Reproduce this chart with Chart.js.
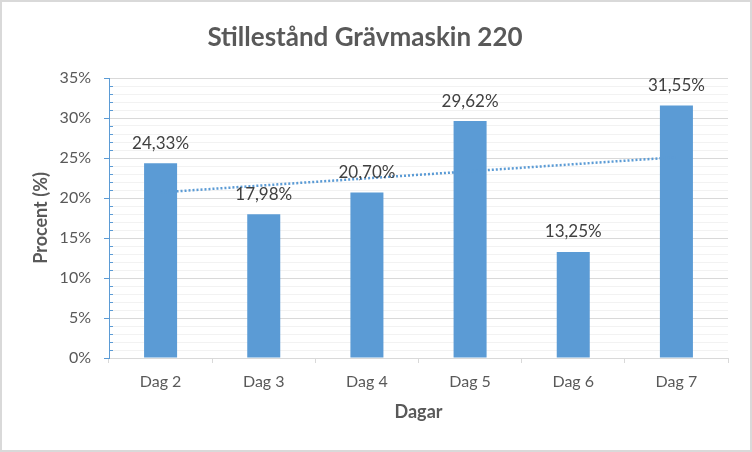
<!DOCTYPE html>
<html lang="sv">
<head>
  <meta charset="UTF-8" />
  <title>Stillestånd Grävmaskin 220</title>
  <script src="https://cdn.jsdelivr.net/npm/chart.js"></script>
  <style>
    html, body { margin: 0; padding: 0; background: #fff; }
    .frame {
      width: 752px;
      height: 452px;
      box-sizing: border-box;
      border: 2px solid #d9d9d9;
      background: #fff;
    }
    .frame canvas { display: block; }
  </style>
</head>
<body>

<div class="frame">
  <canvas id="chart" width="748" height="448"></canvas>
</div>

<script>
  // data
  const days = ['Dag 2', 'Dag 3', 'Dag 4', 'Dag 5', 'Dag 6', 'Dag 7'];
  const downtime = [24.33, 17.98, 20.70, 29.62, 13.25, 31.55];
  // linear trend line, end points
  const trend = [20.7, null, null, null, null, 25.1];

  const blue = '#5b9bd5';
  const grey = '#595959';
  const font = 'Lato, "Open Sans", sans-serif';

  // percentages written the Swedish way
  const fmt = v => v.toFixed(2).replace('.', ',') + '%';

  // value labels above the bars
  const barLabels = {
    id: 'barLabels',
    afterDatasetsDraw(chart) {
      const idx = chart.data.datasets.findIndex(d => !d.type);
      const meta = chart.getDatasetMeta(idx);
      const ctx = chart.ctx;
      ctx.save();
      ctx.font = '17px ' + font;
      ctx.fillStyle = '#404040';
      ctx.textAlign = 'center';
      ctx.textBaseline = 'middle';
      meta.data.forEach((bar, i) => {
        ctx.fillText(fmt(downtime[i]), bar.x, bar.y - 20);
      });
      ctx.restore();
    }
  };

  // small minor tick marks on the inside of the y axis
  const minorTicks = {
    id: 'minorTicks',
    afterDraw(chart) {
      const y = chart.scales.y;
      const ctx = chart.ctx;
      ctx.save();
      ctx.strokeStyle = blue;
      ctx.lineWidth = 1;
      for (let v = 1; v < 35; v++) {
        if (v % 5 === 0) continue;
        const py = Math.round(y.getPixelForValue(v)) + 0.5;
        ctx.beginPath();
        ctx.moveTo(y.right, py);
        ctx.lineTo(y.right + 4, py);
        ctx.stroke();
      }
      ctx.restore();
    }
  };

  new Chart(document.getElementById('chart'), {
    type: 'bar',
    data: {
      labels: days,
      datasets: [{
        type: 'line',
        label: 'Linjär',
        data: trend,
        spanGaps: true,
        borderColor: blue,
        borderWidth: 2.5,
        borderDash: [2, 2],
        pointRadius: 0,
        fill: false,
        order: 0
      }, {
        label: 'Stillestånd',
        data: downtime,
        backgroundColor: blue,
        categoryPercentage: 1,
        barPercentage: 0.32,
        order: 1
      }]
    },
    options: {
      responsive: false,
      animation: false,
      layout: { padding: { left: 0, right: 22, top: 0, bottom: 0 } },
      plugins: {
        legend: { display: false },
        tooltip: { enabled: false },
        title: {
          display: true,
          text: 'Stillestånd Grävmaskin 220',
          color: grey,
          font: { family: font, size: 26, weight: 'bold' },
          padding: { top: 20.4, bottom: 24.4 }
        }
      },
      scales: {
        x: {
          afterFit(scale) { scale.height = 92; },
          grid: {
            offset: true,
            drawOnChartArea: false,
            drawTicks: true,
            tickLength: 5,
            color: '#d9d9d9'
          },
          border: { color: '#d9d9d9' },
          ticks: { color: grey, padding: 9, font: { family: font, size: 16 } },
          title: {
            display: true,
            text: 'Dagar',
            color: grey,
            font: { family: font, size: 18, weight: 'bold' },
            padding: { top: 0, bottom: 27.2 }
          }
        },
        y: {
          min: 0,
          max: 35,
          afterFit(scale) { scale.width = 107; },
          grid: {
            color: c => c.tick.value % 5 === 0 ? '#d9d9d9' : '#f2f2f2',
            tickColor: c => c.tick.value % 5 === 0 ? blue : 'rgba(0,0,0,0)',
            tickLength: 5
          },
          border: { color: blue },
          ticks: {
            stepSize: 1,
            autoSkip: false,
            color: grey,
            padding: 13,
            font: { family: font, size: 16 },
            callback: v => v % 5 === 0 ? v + '%' : ''
          },
          title: {
            display: true,
            text: 'Procent (%)',
            color: grey,
            font: { family: font, size: 18, weight: 'bold' },
            padding: { top: 28.7, bottom: 0 }
          }
        }
      }
    },
    plugins: [barLabels, minorTicks]
  });
</script>

</body>
</html>
